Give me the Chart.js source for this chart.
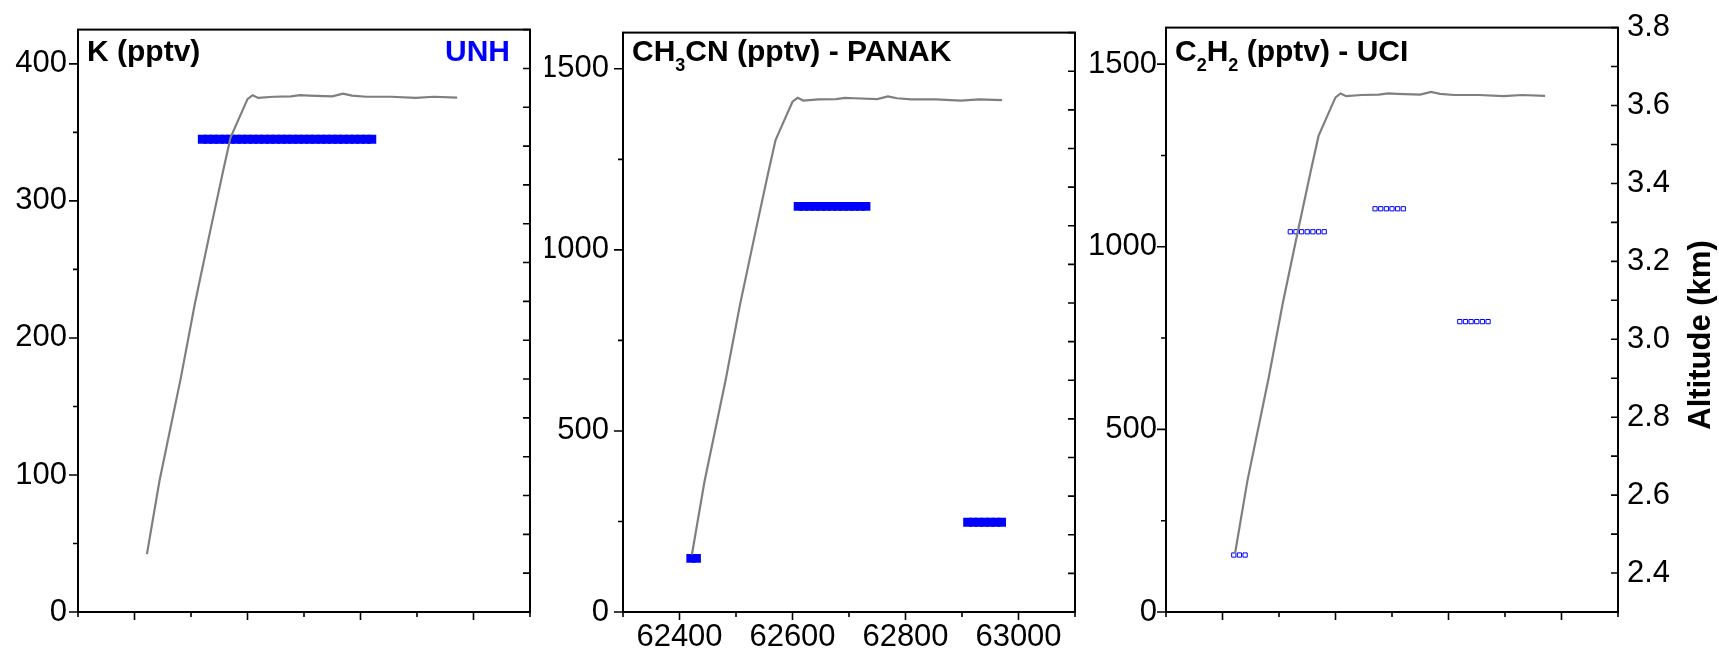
<!DOCTYPE html>
<html>
<head>
<meta charset="utf-8">
<script src="https://cdn.jsdelivr.net/npm/chart.js@4.4.1/dist/chart.umd.min.js"></script>
<style>
  html, body { margin: 0; padding: 0; background: #fff; }
  #wrap { position: relative; width: 1719px; height: 656px; overflow: hidden; background: #fff; }
  #wrap canvas { position: absolute; top: 0; }
</style>
</head>
<body>
<div id="wrap">
  <canvas id="kChart" width="542" height="656" style="left:0px"></canvas>
  <canvas id="ch3cnChart" width="542" height="656" style="left:545px"></canvas>
  <canvas id="c2h2Chart" width="631" height="656" style="left:1088px"></canvas>
</div>
<script>
// ---- data ----
// aircraft altitude trace (UTC seconds, km)
const altTime = [62422, 62444, 62482, 62507, 62535, 62557, 62570, 62583, 62600, 62609, 62619,
                 62646, 62677, 62693, 62709, 62750, 62769, 62785, 62810, 62854, 62898, 62930, 62971];
const altKm = [2.449, 2.636, 2.903, 3.095, 3.288, 3.437, 3.522, 3.565, 3.621, 3.631, 3.624,
               3.627, 3.628, 3.631, 3.630, 3.628, 3.635, 3.630, 3.627, 3.627, 3.624, 3.627, 3.625];

// K (pptv) - UNH
const kTime = [62520, 62530, 62540, 62550, 62560, 62570, 62580, 62590, 62600, 62610, 62620,
               62630, 62640, 62650, 62660, 62670, 62680, 62690, 62700, 62710, 62720, 62730,
               62740, 62750, 62760, 62770, 62780, 62790, 62800, 62810, 62820];
const kPptv = [345, 345, 345, 345, 345, 345, 345, 345, 345, 345, 345,
               345, 345, 345, 345, 345, 345, 345, 345, 345, 345, 345,
               345, 345, 345, 345, 345, 345, 345, 345, 345];

// CH3CN (pptv) - PANAK
const ch3cnTime = [62420, 62430,
                   62610, 62620, 62630, 62640, 62650, 62660, 62670, 62680, 62690, 62700, 62710, 62720, 62730,
                   62910, 62920, 62930, 62940, 62950, 62960, 62970];
const ch3cnPptv = [148, 148,
                   1120, 1120, 1120, 1120, 1120, 1120, 1120, 1120, 1120, 1120, 1120, 1120, 1120,
                   248, 248, 248, 248, 248, 248, 248];

// C2H2 (pptv) - UCI
const c2h2Time = [62420, 62430, 62440,
                  62520, 62530, 62540, 62550, 62560, 62570, 62580,
                  62670, 62680, 62690, 62700, 62710, 62720,
                  62820, 62830, 62840, 62850, 62860, 62870];
const c2h2Pptv = [156, 156, 156,
                  1041, 1041, 1041, 1041, 1041, 1041, 1041,
                  1104, 1104, 1104, 1104, 1104, 1104,
                  795, 795, 795, 795, 795, 795];

// axis ticks
const timeTicks = [62400, 62600, 62800, 63000];
const timeMinor = [62300, 62500, 62700, 62900, 63100];
const kTicks = [0, 100, 200, 300, 400];
const kMinor = [50, 150, 250, 350];
const pptvTicks = [0, 500, 1000, 1500];
const pptvMinor = [250, 750, 1250];
const altTicks = [2.4, 2.6, 2.8, 3.0, 3.2, 3.4, 3.6, 3.8];
const altMinor = [2.5, 2.7, 2.9, 3.1, 3.3, 3.5, 3.7];

// ---- drawing ----
const FONT = "'Liberation Sans', Arial, sans-serif";
const BLUE = '#0000ff';
Chart.defaults.font.family = FONT;
Chart.defaults.font.size = 31;
Chart.defaults.color = '#000';

function toPoints(xs, ys) {
  return xs.map((x, i) => ({ x: x, y: ys[i] }));
}

function drawRich(ctx, segs, x, y) {
  ctx.textAlign = 'left';
  ctx.textBaseline = 'alphabetic';
  segs.forEach(s => {
    ctx.font = s.sub ? 'bold 18px ' + FONT : 'bold 30px ' + FONT;
    ctx.fillText(s.t, x, y + (s.sub ? 10 : 0));
    x += ctx.measureText(s.t).width;
  });
}

function framePlugin(p) {
  return {
    id: 'frame',
    afterDraw(chart) {
      const ctx = chart.ctx, a = chart.chartArea, s = chart.scales;
      ctx.save();
      ctx.strokeStyle = '#000';
      ctx.lineWidth = 2;
      ctx.strokeRect(a.left, a.top, a.right - a.left, a.bottom - a.top);

      ctx.lineWidth = 1.6;
      ctx.beginPath();
      p.yMajor.forEach(v => { const y = s.y.getPixelForValue(v); ctx.moveTo(a.left, y); ctx.lineTo(a.left - 9, y); });
      p.yMinor.forEach(v => { const y = s.y.getPixelForValue(v); ctx.moveTo(a.left, y); ctx.lineTo(a.left - 5, y); });
      timeTicks.forEach(v => { const x = s.x.getPixelForValue(v); ctx.moveTo(x, a.bottom); ctx.lineTo(x, a.bottom + 8); });
      timeMinor.forEach(v => { const x = s.x.getPixelForValue(v); ctx.moveTo(x, a.bottom); ctx.lineTo(x, a.bottom + 5); });
      altTicks.concat(altMinor).forEach(v => { const y = s.y2.getPixelForValue(v); ctx.moveTo(a.right, y); ctx.lineTo(a.right - 7, y); });
      ctx.stroke();

      ctx.fillStyle = '#000';
      drawRich(ctx, p.title, a.left + 9, 61);
      if (p.tag) {
        ctx.font = 'bold 30px ' + FONT;
        ctx.fillStyle = BLUE;
        ctx.textAlign = 'right';
        ctx.fillText(p.tag, a.right - 20, 61);
      }
      if (p.altTitle) {
        ctx.save();
        ctx.translate(a.right + 83, 335);
        ctx.rotate(-Math.PI / 2);
        ctx.font = 'bold 31px ' + FONT;
        ctx.fillStyle = '#000';
        ctx.textAlign = 'center';
        ctx.textBaseline = 'middle';
        ctx.fillText('Altitude (km)', 0, 0);
        ctx.restore();
      }
      ctx.restore();
    }
  };
}

function makePanel(id, p) {
  new Chart(document.getElementById(id), {
    type: 'scatter',
    data: {
      datasets: [
        {
          data: toPoints(altTime, altKm),
          yAxisID: 'y2',
          showLine: true,
          borderColor: '#7f7f7f',
          borderWidth: 2.2,
          pointRadius: 0,
          tension: 0,
          order: 0
        },
        {
          data: toPoints(p.time, p.values),
          yAxisID: 'y',
          pointStyle: 'rect',
          pointRadius: p.open ? 3 : 6.3,
          pointBorderWidth: p.open ? 1 : 0,
          pointBorderColor: BLUE,
          pointBackgroundColor: p.open ? '#fff' : BLUE,
          order: 1
        }
      ]
    },
    options: {
      responsive: false,
      animation: false,
      devicePixelRatio: 1,
      layout: { padding: { top: 26, right: p.altTitle ? 0 : 12, left: 0, bottom: 0 } },
      plugins: { legend: { display: false }, tooltip: { enabled: false } },
      scales: {
        x: {
          type: 'linear', position: 'bottom', min: 62300, max: 63100,
          grid: { display: false, drawTicks: false }, border: { display: false },
          afterBuildTicks: sc => { sc.ticks = timeTicks.map(v => ({ value: v })); },
          afterFit: sc => { sc.height = 44; },
          ticks: { display: p.showTime, font: { family: FONT, size: 31 }, color: '#000', padding: 7,
                   maxRotation: 0, autoSkip: false, callback: v => String(v) }
        },
        y: {
          type: 'linear', position: 'left', min: 0, max: p.yMax,
          grid: { display: false, drawTicks: false }, border: { display: false },
          afterBuildTicks: sc => { sc.ticks = p.yMajor.map(v => ({ value: v })); },
          afterFit: sc => { sc.width = 78; },
          ticks: { font: { family: FONT, size: 31 }, color: '#000', padding: p.labelPad,
                   autoSkip: false, callback: v => String(v) }
        },
        y2: {
          type: 'linear', position: 'right', min: 2.3, max: 3.8, display: !!p.altTitle,
          grid: { display: false, drawTicks: false }, border: { display: false },
          afterBuildTicks: sc => { sc.ticks = altTicks.map(v => ({ value: v })); },
          afterFit: sc => { if (p.altTitle) sc.width = 101; },
          ticks: { font: { family: FONT, size: 31 }, color: '#000', padding: 9,
                   autoSkip: false, callback: v => v.toFixed(1) }
        }
      }
    },
    plugins: [framePlugin(p)]
  });
}

makePanel('kChart', {
  time: kTime, values: kPptv, yMax: 425, yMajor: kTicks, yMinor: kMinor, labelPad: 11,
  title: [{ t: 'K (pptv)' }], tag: 'UNH', showTime: false
});
makePanel('ch3cnChart', {
  time: ch3cnTime, values: ch3cnPptv, yMax: 1600, yMajor: pptvTicks, yMinor: pptvMinor, labelPad: 14,
  title: [{ t: 'CH' }, { t: '3', sub: true }, { t: 'CN (pptv) - PANAK' }], showTime: true
});
makePanel('c2h2Chart', {
  time: c2h2Time, values: c2h2Pptv, yMax: 1600, yMajor: pptvTicks, yMinor: pptvMinor, labelPad: 9,
  title: [{ t: 'C' }, { t: '2', sub: true }, { t: 'H' }, { t: '2', sub: true }, { t: ' (pptv) - UCI' }],
  showTime: false, open: true, altTitle: true
});
</script>
</body>
</html>
